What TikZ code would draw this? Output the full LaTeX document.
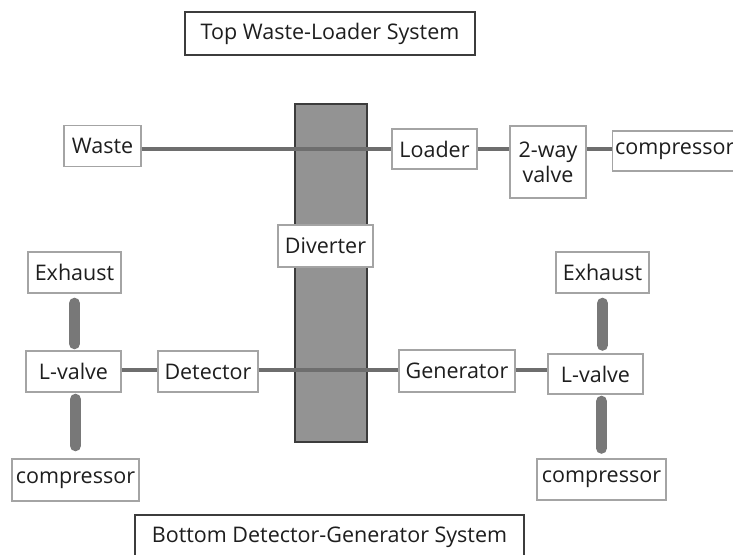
\documentclass[tikz,border=0pt]{standalone}
\usepackage{fontspec}
\setmainfont{Open Sans}
\definecolor{pipegray}{HTML}{6E6E6E}
\definecolor{thickgray}{HTML}{787878}
\definecolor{boxedge}{HTML}{A4A4A4}
\definecolor{inktext}{HTML}{1E1E1E}
\definecolor{columnfill}{HTML}{939393}
\definecolor{columnedge}{HTML}{3C3C3C}
\tikzset{
  part/.style={draw=boxedge, line width=1.4pt, fill=white, text=inktext,
    inner sep=0pt, align=center, font=\fontsize{21.5}{25}\selectfont},
  titlebox/.style={draw=columnedge, line width=1.6pt, fill=white, text=inktext,
    inner sep=0pt, font=\fontsize{21.5}{25}\selectfont},
  pipe/.style={draw=pipegray, line width=4.5pt},
  stem/.style={draw=thickgray, line width=11pt, line cap=round},
}
\begin{document}
\begin{tikzpicture}[x=1pt, y=-1pt]
\clip (0,0) rectangle (733,554);
\fill[white] (0,0) rectangle (733,554);

% central diverter column
\node[draw=columnedge, line width=2pt, fill=columnfill, minimum width=72pt, minimum height=338pt, inner sep=0pt] (column) at (331,273) {};

% headings
\node[titlebox, minimum width=290pt, minimum height=43pt] (toptitle) at (330,33.5) {Top Waste-Loader System};
\node[titlebox, minimum width=389pt, minimum height=44pt] (bottitle) at (329.5,537) {Bottom Detector-Generator System};

% top row
\node[part, minimum width=77pt, minimum height=41pt] (waste) at (102.5,146) {Waste};
\node[part, minimum width=85pt, minimum height=40pt] (loader) at (434.5,149) {Loader};
\node[part, minimum width=76pt, minimum height=72pt] (twoway) at (548,162) {2-way\\valve};
\node[part, anchor=west, align=left, text width=127pt, inner xsep=2.5pt, minimum height=40pt] (compT) at (612,151) {compressor};

% diverter label
\node[part, minimum width=95pt, minimum height=42pt] (diverter) at (325.5,246) {Diverter};

% bottom left group
\node[part, minimum width=93pt, minimum height=41pt] (exhL) at (74.5,272.5) {Exhaust};
\node[part, minimum width=95pt, minimum height=41pt] (lvL) at (73.5,371.5) {L-valve};
\node[part, minimum width=100pt, minimum height=41pt] (detector) at (208,371.5) {Detector};
\node[part, minimum width=127pt, minimum height=42pt] (compL) at (75.5,480) {compressor};

% bottom right group
\node[part, minimum width=116pt, minimum height=42pt] (generator) at (457,371) {Generator};
\node[part, minimum width=95pt, minimum height=40pt] (lvR) at (595.5,374) {L-valve};
\node[part, minimum width=93pt, minimum height=41pt] (exhR) at (602.5,272.5) {Exhaust};
\node[part, minimum width=129pt, minimum height=41pt] (compR) at (601.5,479.5) {compressor};

% connecting pipes
\draw[pipe] (waste.east |- loader.west) -- (loader.west);
\draw[pipe] (loader.east) -- (loader.east -| twoway.west);
\draw[pipe] (twoway.east |- loader.east) -- (loader.east -| compT.west);
\draw[pipe] (lvL.east |- 0,370) -- (detector.west |- 0,370);
\draw[pipe] (detector.east |- 0,370) -- (generator.west |- 0,370);
\draw[pipe] (generator.east |- 0,370) -- (lvR.west |- 0,370);

% thick vertical stems (yshift is in page units: negative moves down)
\draw[stem] ([yshift=-9.5pt]exhL.south) -- ([yshift=6.5pt]exhL.south |- lvL.north);
\draw[stem] ([yshift=-6.5pt]compL.north |- lvL.south) -- ([yshift=12.5pt]compL.north);
\draw[stem] ([yshift=-9.5pt]exhR.south) -- ([yshift=8pt]exhR.south |- lvR.north);
\draw[stem] ([yshift=-6.5pt]compR.north |- lvR.south) -- ([yshift=10pt]compR.north);
\end{tikzpicture}
\end{document}
